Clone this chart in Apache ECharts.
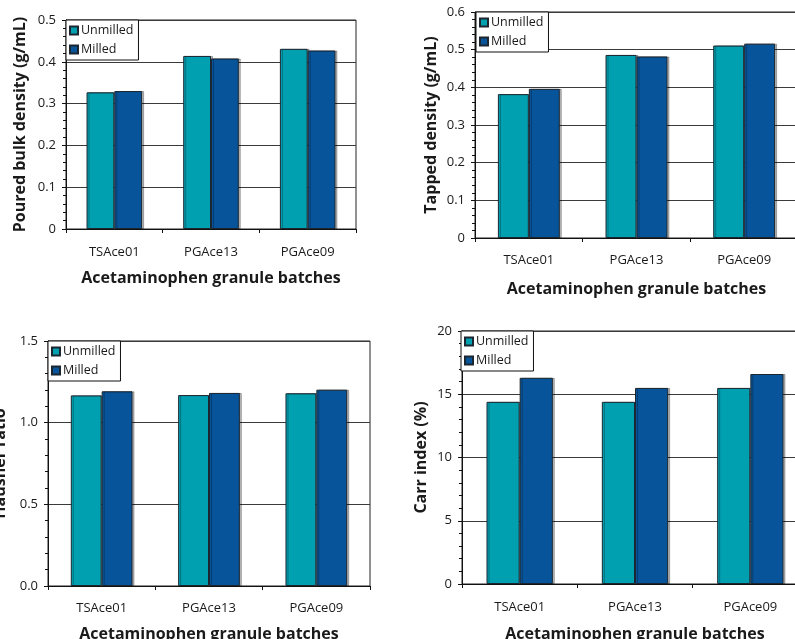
<!DOCTYPE html>
<html>
<head>
<meta charset="utf-8">
<script src="https://cdn.jsdelivr.net/npm/echarts@6/dist/echarts.min.js"></script>
<style>
  html, body { margin: 0; padding: 0; background: #fff; }
  #chart { width: 795px; height: 639px; }
</style>
</head>
<body>
<div id="chart"></div>
<script>
// Granule batches and measured powder properties
const batches = ['TSAce01', 'PGAce13', 'PGAce09'];
const seriesNames = ['Unmilled', 'Milled'];

const bulkUnmilled = [0.327, 0.414, 0.431];
const bulkMilled = [0.330, 0.408, 0.427];

const tappedUnmilled = [0.382, 0.486, 0.511];
const tappedMilled = [0.396, 0.482, 0.516];

const hausnerUnmilled = [1.167, 1.169, 1.180];
const hausnerMilled = [1.192, 1.182, 1.202];

const carrUnmilled = [14.4, 14.4, 15.5];
const carrMilled = [16.3, 15.5, 16.6];

const xTitle = 'Acetaminophen granule batches';

const FONT = '"Open Sans"';
const TEXT = '#1a1a1a';
const COLOR_UNMILLED = '#00a0b0';
const COLOR_MILLED = '#08549a';

// Panel layout: plot rectangle, axis range and label settings
const panels = [
  { rect: { left: 66, top: 20, width: 290, height: 209 }, max: 0.5, interval: 0.1,
    fmt: v => v === 0 ? '0' : v.toFixed(1), yTitle: 'Poured bulk density (g/mL)', yGap: 38,
    labelMargin: 17, xGap: 41, legend: { left: 66, top: 20 },
    data: [bulkUnmilled, bulkMilled] },
  { rect: { left: 475, top: 12, width: 323, height: 226 }, max: 0.6, interval: 0.1,
    fmt: v => v === 0 ? '0' : v.toFixed(1), yTitle: 'Tapped density (g/mL)', yGap: 36,
    labelMargin: 16, xGap: 43, legend: { left: 476, top: 12 },
    data: [tappedUnmilled, tappedMilled] },
  { rect: { left: 48, top: 341, width: 322, height: 245 }, max: 1.5, interval: 0.5,
    fmt: v => v.toFixed(1), yTitle: 'Hausner ratio', yGap: 40,
    labelMargin: 16, xGap: 40, legend: { left: 48, top: 341 },
    data: [hausnerUnmilled, hausnerMilled] },
  { rect: { left: 462, top: 331, width: 346, height: 253 }, max: 20, interval: 5,
    fmt: v => String(v), yTitle: 'Carr index (%)', yGap: 33,
    labelMargin: 17, xGap: 42, legend: { left: 461, top: 331 },
    data: [carrUnmilled, carrMilled] }
];

const grid = [], xAxis = [], yAxis = [], series = [], legend = [];

panels.forEach((p, i) => {
  grid.push(Object.assign({
    show: true, borderColor: '#222', borderWidth: 1, backgroundColor: 'transparent',
    containLabel: false, outerBoundsMode: 'none'
  }, p.rect));

  xAxis.push({
    type: 'category', gridIndex: i, data: batches,
    name: xTitle, nameLocation: 'middle', nameGap: p.xGap, nameMoveOverlap: false,
    nameTextStyle: { fontFamily: FONT, fontWeight: 'bold', fontSize: 16, color: TEXT },
    axisLine: { lineStyle: { color: '#111', width: 1 } },
    axisTick: { show: true, length: 4, lineStyle: { color: '#111' } },
    axisLabel: { margin: p.labelMargin, fontFamily: FONT, fontSize: 13, color: TEXT },
    splitLine: { show: false }
  });

  yAxis.push({
    type: 'value', gridIndex: i, min: 0, max: p.max, interval: p.interval,
    name: p.yTitle, nameLocation: 'middle', nameGap: p.yGap, nameMoveOverlap: false,
    nameTextStyle: { fontFamily: FONT, fontWeight: 'bold', fontSize: 16, color: TEXT },
    axisLine: { show: true, lineStyle: { color: '#111', width: 1 } },
    axisTick: { show: true, length: 4, lineStyle: { color: '#111' } },
    minorTick: { show: true, splitNumber: 5, length: 3, lineStyle: { color: '#111' } },
    axisLabel: { margin: 10, fontFamily: FONT, fontSize: 13, color: TEXT, formatter: p.fmt },
    splitLine: { show: true, lineStyle: { color: '#3a3a3a', width: 1 } }
  });

  legend.push({
    orient: 'vertical', left: p.legend.left, top: p.legend.top,
    data: seriesNames, icon: 'rect', itemWidth: 8, itemHeight: 8, itemGap: 6,
    padding: [4, 5, 4, 3], borderColor: '#111', borderWidth: 1, backgroundColor: '#fff',
    selectedMode: false,
    textStyle: { fontFamily: FONT, fontSize: 12.5, color: TEXT, padding: [0, 0, 0, -2] }
  });

  [COLOR_UNMILLED, COLOR_MILLED].forEach((c, k) => {
    series.push({
      type: 'bar', name: seriesNames[k], xAxisIndex: i, yAxisIndex: i,
      data: p.data[k], barGap: '0%', barCategoryGap: '42.5%',
      itemStyle: {
        color: c, borderColor: '#1b2630', borderWidth: 1,
        shadowColor: 'rgba(0,0,0,0.28)', shadowOffsetX: 2, shadowOffsetY: 0, shadowBlur: 0
      },
      emphasis: { disabled: true },
      animation: false
    });
  });
});

const chart = echarts.init(document.getElementById('chart'), null, { renderer: 'canvas' });
chart.setOption({
  backgroundColor: '#fff',
  animation: false,
  grid, xAxis, yAxis, legend, series
});
</script>
</body>
</html>
